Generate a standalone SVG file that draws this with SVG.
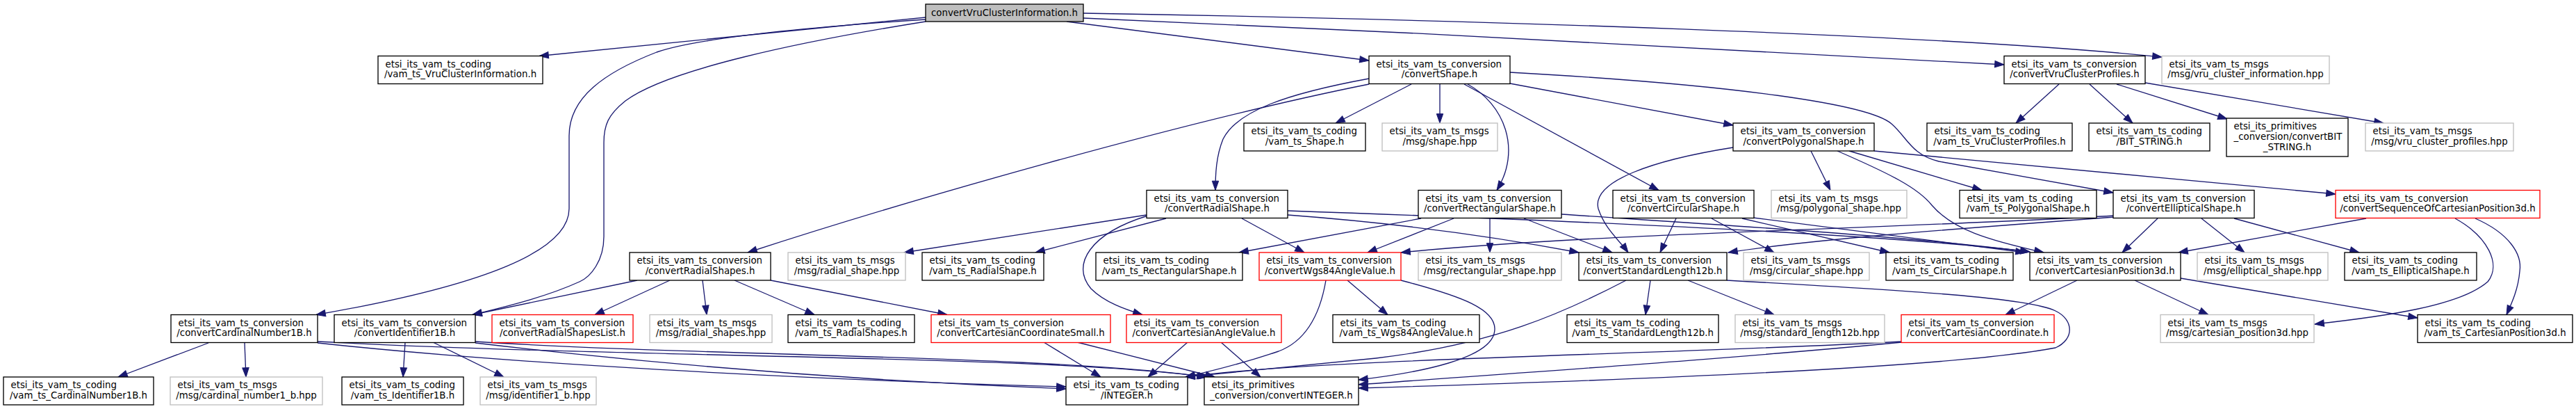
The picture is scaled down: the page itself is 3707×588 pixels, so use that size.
<svg xmlns="http://www.w3.org/2000/svg" width="3707" height="588" viewBox="0 0 3707 588">
<style>
.n rect{fill:#fff;stroke:#000;stroke-width:1.33}
.g rect{stroke:#bfbfbf}
.r rect{stroke:#ff0000}
#root rect{fill:#bfbfbf}
text{font-family:"DejaVu Sans","Liberation Sans",sans-serif;font-size:13.33px;fill:#000}
.m{text-anchor:middle}
#edges path{fill:none;stroke:#191970;stroke-width:1.33;marker-end:url(#ah)}
</style>
<defs>
<marker id="ah" markerUnits="userSpaceOnUse" markerWidth="14" markerHeight="10" refX="13.3" refY="4.7" orient="auto" overflow="visible">
<path d="M0,0 L13.3,4.7 L0,9.4 Z" fill="#191970" stroke="#191970" stroke-width="1"/>
</marker>
</defs>
<rect width="3707" height="588" fill="#fff"/>
<g id="edges">
<path d="M1332,25 L776,80.5"/>
<path d="M1332,28 C1150,40 1000,56 945,75 C870,104 819,140 819,195 L819,300 C819,360 700,410 455,452.5"/>
<path d="M1332,31 C1150,60 960,100 900,145 C875,165 869,180 869,205 L869,340 C869,375 850,398 834,405 C790,425 740,438 680,452.5"/>
<path d="M1535,31 L1970,87"/>
<path d="M1559,26 C2000,45 2600,75 2884,93"/>
<path d="M1559,19 C2100,28 2800,50 3111,82"/>
<path d="M2031,121 L1922,177"/>
<path d="M2072,121 L2072,177"/>
<path d="M2112,121 C2165,150 2190,215 2154,273.5"/>
<path d="M2107,121 L2387,273.5"/>
<path d="M2173,120 L2494,180"/>
<path d="M2173,104 C2500,122 2690,150 2722,178 C2745,198 2750,222 2790,232 L3041,277"/>
<path d="M2697,217 L3361,279"/>
<path d="M1970,113 C1850,135 1780,160 1760,200 C1750,225 1749,250 1749,273.5"/>
<path d="M1970,121 C1700,175 1300,290 1076,363"/>
<path d="M2963,121 L2901,177"/>
<path d="M3007,121 L3069,177"/>
<path d="M3046,121 L3205,171"/>
<path d="M3087,119 L3430,177"/>
<path d="M2606,217 L2634,273.5"/>
<path d="M2661,217 L2852,273.5"/>
<path d="M2644,217 C2720,250 2760,270 2780,295 C2810,330 2860,345 2941,363"/>
<path d="M2494,212 C2380,230 2290,260 2300,300 C2310,330 2330,345 2343,363"/>
<path d="M1650,309 L1301,363"/>
<path d="M1678,314 L1490,363"/>
<path d="M1652,310 C1570,335 1540,380 1570,415 C1590,435 1620,445 1644,452.5"/>
<path d="M1787,314 L1877,363"/>
<path d="M1853,309 C2000,320 2150,340 2272,363"/>
<path d="M1853,303 C2200,315 2700,335 2921,362"/>
<path d="M2045,314 L1783,363"/>
<path d="M2092,314 L1968,363"/>
<path d="M2144,314 L2144,363"/>
<path d="M2193,314 L2320,363"/>
<path d="M2247,308 C2500,325 2750,340 2921,362"/>
<path d="M2412,314 L2389,363"/>
<path d="M2463,314 L2553,363"/>
<path d="M2507,314 L2719,363"/>
<path d="M2523,313 L2914,363"/>
<path d="M3105,314 L3054,363"/>
<path d="M3168,314 L3230,363"/>
<path d="M3215,314 L3395,363"/>
<path d="M3043,312 C2800,330 2600,345 2487,363"/>
<path d="M3043,310 C2700,330 2300,335 2016,363"/>
<path d="M3405,314 L3135,363"/>
<path d="M3533,314 C3580,340 3600,380 3580,405 C3540,440 3430,455 3331,466"/>
<path d="M3562,314 C3610,335 3630,365 3626,390 C3624,415 3615,435 3607,452.5"/>
<path d="M2989,403 L2886,452.5"/>
<path d="M3072,403 L3178,452.5"/>
<path d="M3138,400 L3479,457"/>
<path d="M2375,403 L2368,452.5"/>
<path d="M2429,403 L2553,452.5"/>
<path d="M2340,403 C2250,450 2150,495 1980,515 C1850,528 1780,535 1706,542"/>
<path d="M2485,403 C2750,418 2920,428 2958,447 C2985,460 2985,488 2958,500 C2800,530 2300,548 1955,558"/>
<path d="M2737,491 C2400,510 1900,515 1706,542"/>
<path d="M2737,492 C2500,515 2200,535 1955,553"/>
<path d="M1939,403 L1997,452.5"/>
<path d="M1908,403 C1900,450 1880,490 1840,505 C1790,522 1750,532 1706,542"/>
<path d="M2016,403 C2100,425 2160,445 2150,480 C2140,515 2050,535 1955,546"/>
<path d="M1709,492 L1652,542"/>
<path d="M1757,492 L1814,542"/>
<path d="M1502,492 L1584,542"/>
<path d="M1550,492 L1748,542"/>
<path d="M300,493 L170,542"/>
<path d="M352,493 L354,542"/>
<path d="M457,493 C800,530 1300,550 1534,556"/>
<path d="M457,491 C900,515 1500,510 1736,542"/>
<path d="M684,493 C1000,530 1300,550 1534,559"/>
<path d="M684,491 C1000,512 1500,510 1738,542"/>
<path d="M583,492 L580,542"/>
<path d="M623,492 L725,542"/>
<path d="M917,403 L680,452.5"/>
<path d="M964,403 L856,452.5"/>
<path d="M1011,403 L1017,452.5"/>
<path d="M1057,403 L1172,452.5"/>
<path d="M1109,403 L1363,452.5"/>
</g>
<g id="root" class="n"><rect x="1332" y="6" width="227" height="25"/><text class="m" x="1445.5" y="23">convertVruClusterInformation.h</text></g>
<g id="codVCI" class="n"><rect x="544" y="80.5" width="237" height="40"/><text x="554.5" y="96.7">etsi_its_vam_ts_coding</text><text class="m" x="662.5" y="111.4">/vam_ts_VruClusterInformation.h</text></g>
<g id="cShape" class="n"><rect x="1970" y="80.5" width="203" height="40"/><text x="1980.5" y="96.7">etsi_its_vam_ts_conversion</text><text class="m" x="2071.5" y="111.4">/convertShape.h</text></g>
<g id="cVCP" class="n"><rect x="2884" y="80.5" width="203" height="40"/><text x="2894.5" y="96.7">etsi_its_vam_ts_conversion</text><text class="m" x="2985.5" y="111.4">/convertVruClusterProfiles.h</text></g>
<g id="mVCI" class="n g"><rect x="3111" y="80.5" width="241" height="40"/><text x="3121.5" y="96.7">etsi_its_vam_ts_msgs</text><text class="m" x="3231.5" y="111.4">/msg/vru_cluster_information.hpp</text></g>
<g id="codShape" class="n"><rect x="1790" y="177" width="175" height="40"/><text x="1800.5" y="193.2">etsi_its_vam_ts_coding</text><text class="m" x="1877.5" y="207.9">/vam_ts_Shape.h</text></g>
<g id="mShape" class="n g"><rect x="1989" y="177" width="166" height="40"/><text x="1999.5" y="193.2">etsi_its_vam_ts_msgs</text><text class="m" x="2072" y="207.9">/msg/shape.hpp</text></g>
<g id="cPoly" class="n"><rect x="2494" y="177" width="203" height="40"/><text x="2504.5" y="193.2">etsi_its_vam_ts_conversion</text><text class="m" x="2595.5" y="207.9">/convertPolygonalShape.h</text></g>
<g id="codVCP" class="n"><rect x="2773" y="177" width="209" height="40"/><text x="2783.5" y="193.2">etsi_its_vam_ts_coding</text><text class="m" x="2877.5" y="207.9">/vam_ts_VruClusterProfiles.h</text></g>
<g id="codBIT" class="n"><rect x="3006" y="177" width="174" height="40"/><text x="3016.5" y="193.2">etsi_its_vam_ts_coding</text><text class="m" x="3093" y="207.9">/BIT_STRING.h</text></g>
<g id="pBIT" class="n"><rect x="3204" y="170" width="175" height="55"/><text x="3214.5" y="186.2">etsi_its_primitives</text><text x="3214.5" y="200.9">_conversion/convertBIT</text><text class="m" x="3291.5" y="215.6">_STRING.h</text></g>
<g id="mVCP" class="n g"><rect x="3404" y="177" width="213" height="40"/><text x="3414.5" y="193.2">etsi_its_vam_ts_msgs</text><text class="m" x="3510.5" y="207.9">/msg/vru_cluster_profiles.hpp</text></g>
<g id="cRadial" class="n"><rect x="1650" y="273.5" width="203" height="40"/><text x="1660.5" y="289.7">etsi_its_vam_ts_conversion</text><text class="m" x="1751.5" y="304.4">/convertRadialShape.h</text></g>
<g id="cRect" class="n"><rect x="2041" y="273.5" width="206" height="40"/><text x="2051.5" y="289.7">etsi_its_vam_ts_conversion</text><text class="m" x="2144" y="304.4">/convertRectangularShape.h</text></g>
<g id="cCirc" class="n"><rect x="2321" y="273.5" width="203" height="40"/><text x="2331.5" y="289.7">etsi_its_vam_ts_conversion</text><text class="m" x="2422.5" y="304.4">/convertCircularShape.h</text></g>
<g id="mPoly" class="n g"><rect x="2549" y="273.5" width="195" height="40"/><text x="2559.5" y="289.7">etsi_its_vam_ts_msgs</text><text class="m" x="2646.5" y="304.4">/msg/polygonal_shape.hpp</text></g>
<g id="codPoly" class="n"><rect x="2820" y="273.5" width="197" height="40"/><text x="2830.5" y="289.7">etsi_its_vam_ts_coding</text><text class="m" x="2918.5" y="304.4">/vam_ts_PolygonalShape.h</text></g>
<g id="cEll" class="n"><rect x="3041" y="273.5" width="203" height="40"/><text x="3051.5" y="289.7">etsi_its_vam_ts_conversion</text><text class="m" x="3142.5" y="304.4">/convertEllipticalShape.h</text></g>
<g id="cSeq" class="n r"><rect x="3361" y="273.5" width="294" height="40"/><text x="3371.5" y="289.7">etsi_its_vam_ts_conversion</text><text class="m" x="3508" y="304.4">/convertSequenceOfCartesianPosition3d.h</text></g>
<g id="cRadialShapes" class="n"><rect x="906" y="363" width="203" height="40"/><text x="916.5" y="379.2">etsi_its_vam_ts_conversion</text><text class="m" x="1007.5" y="393.9">/convertRadialShapes.h</text></g>
<g id="mRadial" class="n g"><rect x="1134" y="363" width="169" height="40"/><text x="1144.5" y="379.2">etsi_its_vam_ts_msgs</text><text class="m" x="1218.5" y="393.9">/msg/radial_shape.hpp</text></g>
<g id="codRadial" class="n"><rect x="1327" y="363" width="175" height="40"/><text x="1337.5" y="379.2">etsi_its_vam_ts_coding</text><text class="m" x="1414.5" y="393.9">/vam_ts_RadialShape.h</text></g>
<g id="codRect" class="n"><rect x="1577" y="363" width="211" height="40"/><text x="1587.5" y="379.2">etsi_its_vam_ts_coding</text><text class="m" x="1682.5" y="393.9">/vam_ts_RectangularShape.h</text></g>
<g id="cWgs" class="n r"><rect x="1812" y="363" width="204" height="40"/><text x="1822.5" y="379.2">etsi_its_vam_ts_conversion</text><text class="m" x="1914" y="393.9">/convertWgs84AngleValue.h</text></g>
<g id="mRect" class="n g"><rect x="2041" y="363" width="206" height="40"/><text x="2051.5" y="379.2">etsi_its_vam_ts_msgs</text><text class="m" x="2144" y="393.9">/msg/rectangular_shape.hpp</text></g>
<g id="cSL" class="n"><rect x="2272" y="363" width="213" height="40"/><text x="2282.5" y="379.2">etsi_its_vam_ts_conversion</text><text class="m" x="2378.5" y="393.9">/convertStandardLength12b.h</text></g>
<g id="mCirc" class="n g"><rect x="2509" y="363" width="181" height="40"/><text x="2519.5" y="379.2">etsi_its_vam_ts_msgs</text><text class="m" x="2599.5" y="393.9">/msg/circular_shape.hpp</text></g>
<g id="codCirc" class="n"><rect x="2714" y="363" width="183" height="40"/><text x="2724.5" y="379.2">etsi_its_vam_ts_coding</text><text class="m" x="2805.5" y="393.9">/vam_ts_CircularShape.h</text></g>
<g id="cCP3" class="n"><rect x="2921" y="363" width="217" height="40"/><text x="2931.5" y="379.2">etsi_its_vam_ts_conversion</text><text class="m" x="3029.5" y="393.9">/convertCartesianPosition3d.h</text></g>
<g id="mEll" class="n g"><rect x="3162" y="363" width="188" height="40"/><text x="3172.5" y="379.2">etsi_its_vam_ts_msgs</text><text class="m" x="3256" y="393.9">/msg/elliptical_shape.hpp</text></g>
<g id="codEll" class="n"><rect x="3374" y="363" width="190" height="40"/><text x="3384.5" y="379.2">etsi_its_vam_ts_coding</text><text class="m" x="3469" y="393.9">/vam_ts_EllipticalShape.h</text></g>
<g id="cCard" class="n"><rect x="246" y="452.5" width="211" height="40"/><text x="256.5" y="468.7">etsi_its_vam_ts_conversion</text><text class="m" x="351.5" y="483.4">/convertCardinalNumber1B.h</text></g>
<g id="cId" class="n"><rect x="481" y="452.5" width="203" height="40"/><text x="491.5" y="468.7">etsi_its_vam_ts_conversion</text><text class="m" x="582.5" y="483.4">/convertIdentifier1B.h</text></g>
<g id="cRSL" class="n r"><rect x="708" y="452.5" width="203" height="40"/><text x="718.5" y="468.7">etsi_its_vam_ts_conversion</text><text class="m" x="809.5" y="483.4">/convertRadialShapesList.h</text></g>
<g id="mRadialShapes" class="n g"><rect x="935" y="452.5" width="176" height="40"/><text x="945.5" y="468.7">etsi_its_vam_ts_msgs</text><text class="m" x="1023" y="483.4">/msg/radial_shapes.hpp</text></g>
<g id="codRadialShapes" class="n"><rect x="1134" y="452.5" width="182" height="40"/><text x="1144.5" y="468.7">etsi_its_vam_ts_coding</text><text class="m" x="1225" y="483.4">/vam_ts_RadialShapes.h</text></g>
<g id="cCCS" class="n r"><rect x="1340" y="452.5" width="258" height="40"/><text x="1350.5" y="468.7">etsi_its_vam_ts_conversion</text><text class="m" x="1469" y="483.4">/convertCartesianCoordinateSmall.h</text></g>
<g id="cCAV" class="n r"><rect x="1621" y="452.5" width="223" height="40"/><text x="1631.5" y="468.7">etsi_its_vam_ts_conversion</text><text class="m" x="1732.5" y="483.4">/convertCartesianAngleValue.h</text></g>
<g id="codWgs" class="n"><rect x="1918" y="452.5" width="211" height="40"/><text x="1928.5" y="468.7">etsi_its_vam_ts_coding</text><text class="m" x="2023.5" y="483.4">/vam_ts_Wgs84AngleValue.h</text></g>
<g id="codSL" class="n"><rect x="2255" y="452.5" width="218" height="40"/><text x="2265.5" y="468.7">etsi_its_vam_ts_coding</text><text class="m" x="2364" y="483.4">/vam_ts_StandardLength12b.h</text></g>
<g id="mSL" class="n g"><rect x="2497" y="452.5" width="215" height="40"/><text x="2507.5" y="468.7">etsi_its_vam_ts_msgs</text><text class="m" x="2604.5" y="483.4">/msg/standard_length12b.hpp</text></g>
<g id="cCC" class="n r"><rect x="2736" y="452.5" width="220" height="40"/><text x="2746.5" y="468.7">etsi_its_vam_ts_conversion</text><text class="m" x="2846" y="483.4">/convertCartesianCoordinate.h</text></g>
<g id="mCP3" class="n g"><rect x="3109" y="452.5" width="221" height="40"/><text x="3119.5" y="468.7">etsi_its_vam_ts_msgs</text><text class="m" x="3219.5" y="483.4">/msg/cartesian_position3d.hpp</text></g>
<g id="codCP3" class="n"><rect x="3479" y="452.5" width="223" height="40"/><text x="3489.5" y="468.7">etsi_its_vam_ts_coding</text><text class="m" x="3590.5" y="483.4">/vam_ts_CartesianPosition3d.h</text></g>
<g id="codCard" class="n"><rect x="5" y="542" width="216" height="40"/><text x="15.5" y="558.2">etsi_its_vam_ts_coding</text><text class="m" x="113" y="572.9">/vam_ts_CardinalNumber1B.h</text></g>
<g id="mCard" class="n g"><rect x="245" y="542" width="219" height="40"/><text x="255.5" y="558.2">etsi_its_vam_ts_msgs</text><text class="m" x="354.5" y="572.9">/msg/cardinal_number1_b.hpp</text></g>
<g id="codId" class="n"><rect x="492" y="542" width="175" height="40"/><text x="502.5" y="558.2">etsi_its_vam_ts_coding</text><text class="m" x="579.5" y="572.9">/vam_ts_Identifier1B.h</text></g>
<g id="mId" class="n g"><rect x="691" y="542" width="167" height="40"/><text x="701.5" y="558.2">etsi_its_vam_ts_msgs</text><text class="m" x="774.5" y="572.9">/msg/identifier1_b.hpp</text></g>
<g id="codINT" class="n"><rect x="1534" y="542" width="175" height="40"/><text x="1544.5" y="558.2">etsi_its_vam_ts_coding</text><text class="m" x="1621.5" y="572.9">/INTEGER.h</text></g>
<g id="pINT" class="n"><rect x="1733" y="542" width="222" height="40"/><text x="1743.5" y="558.2">etsi_its_primitives</text><text class="m" x="1844" y="572.9">_conversion/convertINTEGER.h</text></g>
</svg>
